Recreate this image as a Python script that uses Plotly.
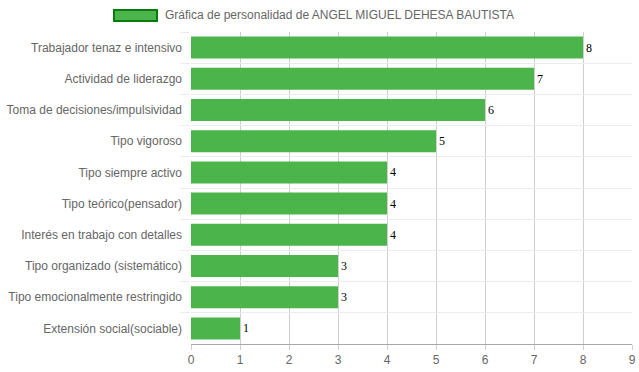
import plotly.graph_objects as go

categories = [
    "Trabajador tenaz e intensivo",
    "Actividad de liderazgo",
    "Toma de decisiones/impulsividad",
    "Tipo vigoroso",
    "Tipo siempre activo",
    "Tipo teórico(pensador)",
    "Interés en trabajo con detalles",
    "Tipo organizado (sistemático)",
    "Tipo emocionalmente restringido",
    "Extensión social(sociable)",
]
values = [8, 7, 6, 5, 4, 4, 4, 3, 3, 1]
x_ticks = list(range(0, 10))
series_name = "Gráfica de personalidad de ANGEL MIGUEL DEHESA BAUTISTA"

fig = go.Figure()
fig.add_trace(go.Bar(
    y=categories,
    x=values,
    orientation="h",
    name=series_name,
    marker=dict(color="#4bb54b", line=dict(width=0)),
    text=[str(v) for v in values],
    textposition="outside",
    textfont=dict(family="Liberation Serif, Times New Roman, serif", size=12, color="#000"),
    cliponaxis=False,
    showlegend=False,
))

fig.update_layout(
    width=639, height=372,
    margin=dict(l=191, r=7, t=32, b=28, autoexpand=False),
    paper_bgcolor="white", plot_bgcolor="white",
    bargap=0.295,
    font=dict(family="Liberation Sans, Arial, sans-serif", size=12, color="#666"),
    xaxis=dict(
        range=[0, 9], tickvals=x_ticks, showgrid=True, gridcolor="#cfcfcf", gridwidth=1,
        zeroline=False, showline=True, linecolor="#a8a8a8", linewidth=1,
        ticks="outside", ticklen=5, tickcolor="#cfcfcf", automargin=False,
        tickfont=dict(size=12, color="#666"), mirror=False,
    ),
    yaxis=dict(
        type="category", autorange="reversed", tickson="boundaries",
        showgrid=True, gridcolor="#ececec", gridwidth=1,
        ticks="outside", ticklen=10, tickcolor="#ececec", automargin=False,
        showline=False, zeroline=False, ticklabelstandoff=8,
        tickfont=dict(size=12, color="#666"),
    ),
    shapes=[dict(
        type="rect", xref="paper", yref="paper",
        x0=-0.1746, x1=-0.0771, y0=1.0353, y1=1.0705,
        fillcolor="#4bb54b", line=dict(color="#0a7a0a", width=2),
    )],
    annotations=[dict(
        text=series_name, xref="paper", yref="paper", x=-0.0635, y=1.0529,
        xanchor="left", yanchor="middle", showarrow=False,
        font=dict(size=12, color="#666"),
    )],
)

fig.write_html(
    "out.html",
    config={"displayModeBar": False},
    post_script="document.body.style.margin='0';document.body.style.overflow='hidden';",
)
